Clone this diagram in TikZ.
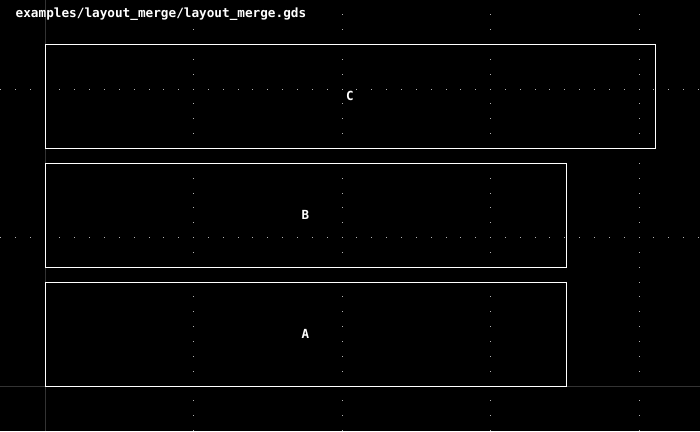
\documentclass[tikz,border=0pt]{standalone}
\usepackage{fontspec}
\setmonofont{DejaVu Sans Mono}
\begin{document}
\begin{tikzpicture}[x=1pt,y=-1pt,
  cell/.style={draw=white, line width=1pt, minimum width=#1, inner sep=0pt, text=white,
    font=\ttfamily\bfseries\fontsize{12.5}{12.5}\selectfont},
  gdot/.style={fill=gray!60}]
\fill[black] (0,0) rectangle (700,431);
\useasboundingbox (0,0) rectangle (700,431);
% grid dots
\foreach \gx in {193.5,342,490.5,639}{
  \foreach \k in {-3,...,29}{
    \fill[gdot] (\gx-0.45,386-\k*14.85-0.45) rectangle ++(0.9,0.9);
  }
}
\foreach \gy in {237.5,89}{
  \foreach \k in {-3,...,44}{
    \fill[gdot] (45+\k*14.85-0.45,\gy-0.45) rectangle ++(0.9,0.9);
  }
}
% axes
\draw[gray!40!black, line width=1pt] (45,0) -- (45,431);
\draw[gray!40!black, line width=1pt] (0,386) -- (700,386);
% cells
\node[cell, minimum width=610pt, minimum height=104pt] (C) at (350,96) {C};
\node[cell, minimum width=521pt, minimum height=104pt] (B) at (305.5,215) {B};
\node[cell, minimum width=521pt, minimum height=104pt] (A) at (305.5,334) {A};
% title
\node[anchor=west, text=white, inner sep=0pt, font=\ttfamily\bfseries\fontsize{12.7}{12.7}\selectfont] (title) at (15.5,14.5) {examples/layout\_merge/layout\_merge.gds};
\end{tikzpicture}
\end{document}
